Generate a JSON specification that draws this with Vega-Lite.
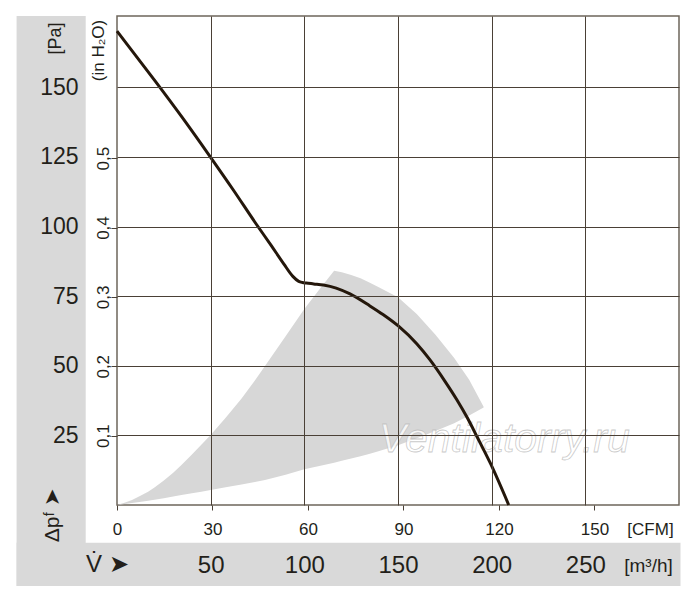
{
  "$schema": "https://vega.github.io/schema/vega-lite/v6.json",
  "description": "Fan curve: static pressure vs air flow with operating range",
  "width": 562,
  "height": 489,
  "autosize": {"type": "none"},
  "padding": {"left": 117, "top": 16, "right": 21, "bottom": 97},
  "background": "#ffffff",
  "config": {
    "font": "Liberation Sans",
    "view": {"stroke": "#6e655b", "strokeWidth": 1.5},
    "axis": {
      "labelColor": "#231f1a",
      "titleColor": "#231f1a",
      "titleFontWeight": "normal",
      "labelOverlap": false,
      "labelFlush": false,
      "domain": false
    }
  },
  "layer": [
    {
      "data": {"values": [{}]},
      "mark": {"type": "rect", "color": "#d9d9d9"},
      "encoding": {
        "x": {"datum": -53.6, "type": "quantitative", "scale": {"domain": [0, 300], "nice": false, "zero": false}, "axis": null},
        "x2": {"datum": -16.7},
        "y": {"datum": -29.1, "type": "quantitative", "scale": {"domain": [0, 175.6], "nice": false, "zero": false}, "axis": null},
        "y2": {"datum": 175.6}
      }
    },
    {
      "data": {"values": [{}]},
      "mark": {"type": "rect", "color": "#d9d9d9"},
      "encoding": {
        "x": {"datum": -53.6, "type": "quantitative", "scale": {"domain": [0, 300], "nice": false, "zero": false}, "axis": null},
        "x2": {"datum": 300.8},
        "y": {"datum": -29.1, "type": "quantitative", "scale": {"domain": [0, 175.6], "nice": false, "zero": false}, "axis": null},
        "y2": {"datum": -13.6}
      }
    },
    {
      "data": {
        "values": [
          {"flow": 0, "lo": 0, "hi": 0},
          {"flow": 4, "lo": 0.35, "hi": 0.8},
          {"flow": 8, "lo": 0.72, "hi": 1.8},
          {"flow": 12, "lo": 1.08, "hi": 3.1},
          {"flow": 16.6, "lo": 1.5, "hi": 4.8},
          {"flow": 20, "lo": 1.9, "hi": 6.3},
          {"flow": 25, "lo": 2.45, "hi": 8.8},
          {"flow": 30, "lo": 3.05, "hi": 11.6},
          {"flow": 34.4, "lo": 3.6, "hi": 14.4},
          {"flow": 40, "lo": 4.25, "hi": 18.1},
          {"flow": 45, "lo": 4.8, "hi": 21.6},
          {"flow": 50, "lo": 5.4, "hi": 25.1},
          {"flow": 58, "lo": 6.4, "hi": 31.3},
          {"flow": 66.5, "lo": 7.4, "hi": 38.2},
          {"flow": 73.6, "lo": 8.3, "hi": 44.7},
          {"flow": 79, "lo": 9.0, "hi": 49.9},
          {"flow": 90, "lo": 10.9, "hi": 60.6},
          {"flow": 100, "lo": 12.8, "hi": 70.4},
          {"flow": 108, "lo": 14.0, "hi": 77.4},
          {"flow": 115.9, "lo": 15.2, "hi": 84.1},
          {"flow": 120, "lo": 15.9, "hi": 83.6},
          {"flow": 125, "lo": 16.7, "hi": 82.6},
          {"flow": 130, "lo": 17.5, "hi": 81.4},
          {"flow": 135, "lo": 18.4, "hi": 79.8},
          {"flow": 140, "lo": 19.4, "hi": 78.1},
          {"flow": 150, "lo": 21.5, "hi": 74.6},
          {"flow": 160, "lo": 24, "hi": 68.6},
          {"flow": 170, "lo": 26.6, "hi": 61.1},
          {"flow": 180, "lo": 29.4, "hi": 52.8},
          {"flow": 188, "lo": 32.1, "hi": 45},
          {"flow": 195.7, "lo": 35, "hi": 35.3}
        ]
      },
      "mark": {"type": "area", "color": "#d7d7d7", "opacity": 1},
      "encoding": {
        "x": {
          "field": "flow", "type": "quantitative",
          "scale": {"domain": [0, 300], "nice": false, "zero": false},
          "axis": {
            "orient": "bottom",
            "zindex": 2,
            "values": [0, 50.97, 101.94, 152.91, 203.88, 254.85],
            "labelExpr": "format(round(datum.value / 1.699), 'd')",
            "grid": false,
            "tickSize": 5,
            "tickColor": "#4a4036",
            "labelFontSize": 17,
            "labelPadding": 19,
            "labelBaseline": "middle",
            "title": "[CFM]",
            "titleFontSize": 17,
            "titleX": 533,
            "titleY": 24,
            "titleAlign": "center",
            "titleBaseline": "middle"
          }
        },
        "y": {
          "field": "hi", "type": "quantitative",
          "scale": {"domain": [0, 175.6], "nice": false, "zero": false},
          "axis": {
            "orient": "left",
            "zindex": 2,
            "values": [25, 50, 75, 100, 125, 150],
            "ticks": false,
            "grid": true,
            "gridColor": "#4a4036",
            "gridWidth": 1,
            "labelFontSize": 23,
            "labelPadding": 39,
            "labelBaseline": "middle",
            "title": "[Pa]",
            "titleFontSize": 18,
            "titleAngle": -90,
            "titleX": -62,
            "titleY": 22,
            "titleAlign": "center",
            "titleBaseline": "middle"
          }
        },
        "y2": {"field": "lo"}
      }
    },
    {
      "data": {"values": [{"label": "Ventilatorry.ru"}]},
      "mark": {"type": "text", "fontSize": 41, "fontStyle": "italic", "fill": "#ffffff", "fillOpacity": 0.75, "stroke": "#b8b8b8", "strokeWidth": 0.8, "strokeOpacity": 0.75, "baseline": "middle", "align": "center"},
      "encoding": {
        "x": {"datum": 206.8, "type": "quantitative", "scale": {"domain": [0, 300], "nice": false, "zero": false}, "axis": null},
        "y": {"datum": 23.3, "type": "quantitative", "scale": {"domain": [0, 175.6], "nice": false, "zero": false}, "axis": null},
        "text": {"field": "label"}
      }
    },
    {
      "data": {
        "values": [
          {"flow": 0, "pa": 170.2},
          {"flow": 10, "pa": 161.4},
          {"flow": 20.3, "pa": 152.3},
          {"flow": 35, "pa": 139},
          {"flow": 49.6, "pa": 125.2},
          {"flow": 62, "pa": 113.2},
          {"flow": 74.2, "pa": 101},
          {"flow": 82, "pa": 93.5},
          {"flow": 89, "pa": 86.6},
          {"flow": 94, "pa": 82.0},
          {"flow": 97, "pa": 80.3},
          {"flow": 99, "pa": 79.9},
          {"flow": 101, "pa": 79.7},
          {"flow": 105, "pa": 79.4},
          {"flow": 110.2, "pa": 79},
          {"flow": 117, "pa": 77.9},
          {"flow": 124.4, "pa": 75.8},
          {"flow": 135, "pa": 71.5},
          {"flow": 142, "pa": 68.4},
          {"flow": 150.3, "pa": 64.2},
          {"flow": 160, "pa": 57.9},
          {"flow": 167.2, "pa": 52},
          {"flow": 175, "pa": 44.5},
          {"flow": 181.5, "pa": 37.7},
          {"flow": 187, "pa": 31.3},
          {"flow": 192.2, "pa": 24.5},
          {"flow": 199.3, "pa": 15},
          {"flow": 209.1, "pa": 0}
        ]
      },
      "mark": {"type": "line", "color": "#24170b", "strokeWidth": 3, "interpolate": "monotone"},
      "encoding": {
        "x": {
          "field": "flow", "type": "quantitative",
          "scale": {"domain": [0, 300], "nice": false, "zero": false},
          "axis": {
            "orient": "bottom",
            "zindex": 1,
            "values": [50, 100, 150, 200, 250],
            "labels": false,
            "ticks": false,
            "grid": true,
            "gridColor": "#4a4036",
            "gridWidth": 1,
            "title": null
          }
        },
        "y": {
          "field": "pa", "type": "quantitative",
          "scale": {"domain": [0, 175.6], "nice": false, "zero": false},
          "axis": {
            "orient": "left",
            "zindex": 2,
            "values": [24.91, 49.82, 74.73, 99.64, 124.55],
            "labelExpr": "replace(format(datum.value / 249.1, '.1f'), '.', ',')",
            "grid": false,
            "tickSize": 6,
            "tickColor": "#4a4036",
            "labelPadding": 3,
            "labelAngle": -90,
            "labelAlign": "center",
            "labelBaseline": "alphabetic",
            "labelFontSize": 17,
            "title": "(in H₂O)",
            "titleFontSize": 17,
            "titleAngle": -90,
            "titleX": -19,
            "titleY": 34,
            "titleAlign": "center",
            "titleBaseline": "middle"
          }
        }
      }
    },
    {
      "data": {"values": [{"label": "V̇ ➤"}]},
      "mark": {"type": "text", "fontSize": 24, "color": "#231f1a", "baseline": "middle", "align": "center"},
      "encoding": {
        "x": {
          "datum": -5.2, "type": "quantitative",
          "scale": {"domain": [0, 300], "nice": false, "zero": false},
          "axis": {
            "orient": "bottom",
            "zindex": 2,
            "values": [50, 100, 150, 200, 250],
            "ticks": false,
            "grid": false,
            "labelFontSize": 24,
            "labelPadding": 60,
            "labelBaseline": "middle",
            "title": "[m³/h]",
            "titleFontSize": 19,
            "titleX": 531,
            "titleY": 60,
            "titleAlign": "center",
            "titleBaseline": "middle"
          }
        },
        "y": {"datum": -21.5, "type": "quantitative", "scale": {"domain": [0, 175.6], "nice": false, "zero": false}, "axis": null},
        "text": {"field": "label"}
      }
    },
    {
      "data": {"values": [{"label": "Δpᶠ ➤"}]},
      "mark": {"type": "text", "fontSize": 21, "angle": 270, "color": "#231f1a", "baseline": "middle", "align": "center"},
      "encoding": {
        "x": {"datum": -33.9, "type": "quantitative", "scale": {"domain": [0, 300], "nice": false, "zero": false}, "axis": null},
        "y": {"datum": -3.6, "type": "quantitative", "scale": {"domain": [0, 175.6], "nice": false, "zero": false}, "axis": null},
        "text": {"field": "label"}
      }
    }
  ],
  "resolve": {"axis": {"x": "independent", "y": "independent"}}
}
